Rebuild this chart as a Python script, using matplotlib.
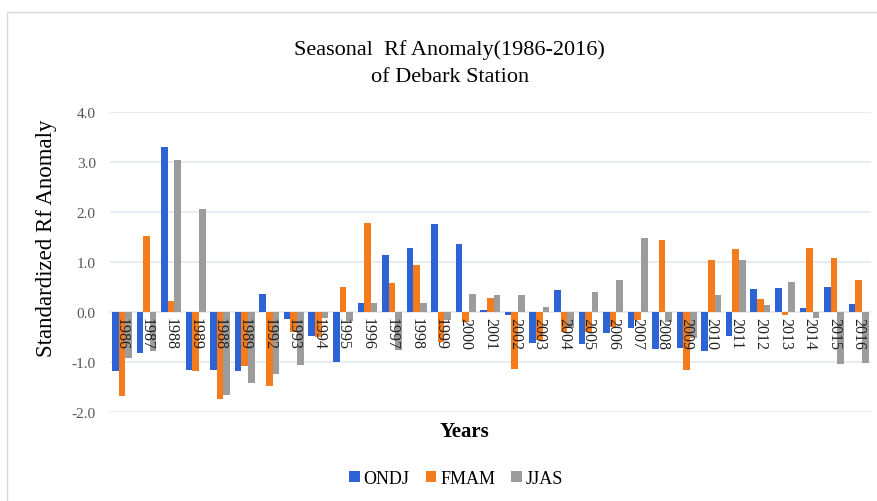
import numpy as np
import matplotlib.pyplot as plt
from matplotlib.patches import Rectangle

plt.rcParams['font.family'] = ['Liberation Serif', 'DejaVu Serif']

years = ['1986', '1987', '1988', '1989', '1988', '1989', '1992', '1993', '1994', '1995',
         '1996', '1997', '1998', '1999', '2000', '2001', '2002', '2003', '2004', '2005',
         '2006', '2007', '2008', '2009', '2010', '2011', '2012', '2013', '2014', '2015', '2016']

ondj = [-1.17, -0.81, 3.29, -1.15, -1.15, -1.17, 0.37, -0.13, -0.47, -0.99,
        0.19, 1.15, 1.29, 1.77, 1.37, 0.04, -0.06, -0.61, 0.44, -0.63,
        -0.41, -0.31, -0.73, -0.71, -0.77, -0.47, 0.47, 0.49, 0.09, 0.51, 0.16]
fmam = [-1.67, 1.53, 0.23, -1.17, -1.73, -1.07, -1.47, -0.40, -0.50, 0.51,
        1.79, 0.59, 0.95, -0.60, -0.19, 0.29, -1.13, -0.55, -0.40, -0.40,
        -0.30, -0.15, 1.44, -1.15, 1.04, 1.26, 0.26, -0.05, 1.29, 1.09, 0.64]
jjas = [-0.91, -0.77, 3.03, 2.07, -1.65, -1.41, -1.24, -1.06, -0.11, -0.17,
        0.19, -0.75, 0.19, -0.15, 0.37, 0.34, 0.34, 0.11, -0.31, 0.41,
        0.64, 1.49, -0.19, -0.51, 0.34, 1.04, 0.14, 0.61, -0.11, -1.04, -1.01]

series = [('ONDJ', ondj, '#2e63d6'), ('FMAM', fmam, '#f47c1c'), ('JJAS', jjas, '#9c9c9c')]

fig = plt.figure(figsize=(8.77, 5.02), dpi=100)
ax = fig.add_axes([0.125, 0.177, 0.868, 0.598])

x = np.arange(len(years))
w = 0.27
for i, (name, vals, col) in enumerate(series):
    ax.bar(x + (i - 1) * w, vals, w, color=col, label=name, zorder=2)

# year labels sit just under the zero line
for xi, lab in zip(x, years):
    ax.text(xi, -0.1, lab, rotation=270, ha='center', va='top',
            fontsize=11.5, color='#222222', zorder=3)

ax.set_xlim(-0.5, len(years) - 0.5)
ax.set_ylim(-2.0, 4.0)
ax.set_yticks(np.arange(-2.0, 4.01, 1.0))
ax.set_yticklabels([f'{v:.1f}' for v in np.arange(-2.0, 4.01, 1.0)], fontsize=11, color='#555555')
ax.set_xticks([])
ax.grid(axis='y', color='#e4e7ec', linewidth=1.2, zorder=0)
for s in ax.spines.values():
    s.set_visible(False)
ax.tick_params(axis='y', length=0, pad=10)

fig.text(0.053, 0.526, 'Standardized Rf Anomaly', rotation=90, ha='center', va='center', fontsize=16.5)
fig.text(0.513, 0.9, 'Seasonal  Rf Anomaly(1986-2016)', ha='center', va='center', fontsize=16)
fig.text(0.513, 0.845, 'of Debark Station', ha='center', va='center', fontsize=16)
fig.text(0.53, 0.14, 'Years', ha='center', va='center', fontsize=15, fontweight='bold')

fig.legend(loc='center', bbox_to_anchor=(0.52, 0.045), ncol=3, frameon=False, fontsize=13,
           handlelength=0.6, handleheight=0.6, handletextpad=0.2, columnspacing=0.9)

fig.patches.append(Rectangle((0.008, -0.02), 1.0, 0.994, transform=fig.transFigure,
                             fill=False, edgecolor='#d9d9d9', linewidth=1.0))

fig.savefig('out.png', dpi=100)
